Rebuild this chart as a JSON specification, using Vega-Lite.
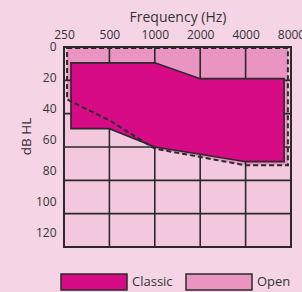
{
  "$schema": "https://vega.github.io/schema/vega-lite/v6.json",
  "width": 227,
  "height": 200,
  "autosize": "none",
  "padding": {"left": 64, "top": 47, "right": 11, "bottom": 45},
  "background": "#f5d5e5",
  "config": {
    "font": "Open Sans",
    "view": {"fill": "#f3c8de", "stroke": "#2a2a2a", "strokeWidth": 2},
    "axis": {
      "labelFont": "Open Sans", "labelFontSize": 12, "labelColor": "#333333",
      "titleFont": "Open Sans", "titleFontSize": 13, "titleFontWeight": "normal", "titleColor": "#333333",
      "domain": false, "ticks": false, "grid": false, "labelFlush": false, "labelOverlap": false
    },
    "axisX": {"labelBound": false, "labelPadding": 6, "titlePadding": 4, "titleFontSize": 14},
    "axisY": {"labelPadding": 8, "titlePadding": 2, "titleY": 89, "titleFontSize": 13.5},
    "legend": {"labelFont": "Open Sans", "labelFontSize": 13, "labelColor": "#333333"}
  },
  "datasets": {
    "open": [
      {"series": "Open", "freq": 262, "top": 0.6, "bottom": 31.5},
      {"series": "Open", "freq": 500, "top": 0.6, "bottom": 44},
      {"series": "Open", "freq": 1000, "top": 0.6, "bottom": 61},
      {"series": "Open", "freq": 4000, "top": 0.6, "bottom": 71},
      {"series": "Open", "freq": 7630, "top": 0.6, "bottom": 71}
    ],
    "classic": [
      {"series": "Classic", "freq": 278, "top": 9.5, "bottom": 49},
      {"series": "Classic", "freq": 500, "top": 9.5, "bottom": 49},
      {"series": "Classic", "freq": 1000, "top": 9.5, "bottom": 60},
      {"series": "Classic", "freq": 2000, "top": 19, "bottom": 64.4},
      {"series": "Classic", "freq": 4000, "top": 19, "bottom": 68.8},
      {"series": "Classic", "freq": 7200, "top": 19, "bottom": 68.8}
    ],
    "vgrid": [{"freq": 500}, {"freq": 1000}, {"freq": 2000}, {"freq": 4000}],
    "hgrid": [{"db": 20}, {"db": 40}, {"db": 60}, {"db": 80}, {"db": 100}]
  },
  "layer": [
    {
      "data": {"name": "open"},
      "mark": {"type": "area", "opacity": 1, "strokeWidth": 0},
      "encoding": {
        "x": {"field": "freq", "type": "quantitative", "scale": {"type": "log", "domain": [250, 8000], "nice": false},
          "axis": {"orient": "top", "title": "Frequency (Hz)", "values": [250, 500, 1000, 2000, 4000, 8000], "format": "d"}},
        "y": {"field": "top", "type": "quantitative", "scale": {"domain": [0, 120], "reverse": true, "nice": false, "zero": false},
          "axis": {"title": "dB HL", "titleFontSize": 13.5, "values": [0, 20, 40, 60, 80, 100, 120], "labelOffset": {"expr": "-1 - 0.109 * datum.value"}}},
        "y2": {"field": "bottom"},
        "color": {
          "field": "series", "type": "nominal",
          "scale": {"domain": ["Classic", "Open"], "range": ["#d70b86", "#e994c1"]},
          "legend": {
            "orient": "none", "legendX": -4, "legendY": 201, "direction": "horizontal", "title": null,
            "symbolType": "M-1,-0.2424H1V0.2424H-1Z", "symbolSize": 4356,
            "symbolStrokeColor": "#2a2a2a", "symbolStrokeWidth": 1.5, "symbolOpacity": 1,
            "labelOffset": 4, "columnPadding": 10, "padding": 0
          }
        }
      }
    },
    {
      "data": {"name": "vgrid"},
      "mark": {"type": "rule", "color": "#2a2a2a", "strokeWidth": 1.6},
      "encoding": {
        "x": {"field": "freq", "type": "quantitative", "scale": {"type": "log", "domain": [250, 8000], "nice": false},
          "axis": {"orient": "top", "title": "Frequency (Hz)", "values": [250, 500, 1000, 2000, 4000, 8000], "format": "d"}}
      }
    },
    {
      "data": {"name": "hgrid"},
      "mark": {"type": "rule", "color": "#2a2a2a", "strokeWidth": 1.6},
      "encoding": {
        "y": {"field": "db", "type": "quantitative", "scale": {"domain": [0, 120], "reverse": true, "nice": false, "zero": false},
          "axis": {"title": "dB HL", "titleFontSize": 13.5, "values": [0, 20, 40, 60, 80, 100, 120], "labelOffset": {"expr": "-1 - 0.109 * datum.value"}}}
      }
    },
    {
      "data": {"name": "classic"},
      "mark": {"type": "area", "opacity": 1, "stroke": "#2a2a2a", "strokeWidth": 1.6},
      "encoding": {
        "x": {"field": "freq", "type": "quantitative", "scale": {"type": "log", "domain": [250, 8000], "nice": false},
          "axis": {"orient": "top", "title": "Frequency (Hz)", "values": [250, 500, 1000, 2000, 4000, 8000], "format": "d"}},
        "y": {"field": "top", "type": "quantitative", "scale": {"domain": [0, 120], "reverse": true, "nice": false, "zero": false},
          "axis": {"title": "dB HL", "titleFontSize": 13.5, "values": [0, 20, 40, 60, 80, 100, 120], "labelOffset": {"expr": "-1 - 0.109 * datum.value"}}},
        "y2": {"field": "bottom"},
        "color": {"field": "series", "type": "nominal"}
      }
    },
    {
      "data": {"name": "open"},
      "mark": {"type": "area", "fill": "transparent", "stroke": "#2a2a2a", "strokeWidth": 2, "strokeDash": [5, 3]},
      "encoding": {
        "x": {"field": "freq", "type": "quantitative", "scale": {"type": "log", "domain": [250, 8000], "nice": false},
          "axis": {"orient": "top", "title": "Frequency (Hz)", "values": [250, 500, 1000, 2000, 4000, 8000], "format": "d"}},
        "y": {"field": "top", "type": "quantitative", "scale": {"domain": [0, 120], "reverse": true, "nice": false, "zero": false},
          "axis": {"title": "dB HL", "titleFontSize": 13.5, "values": [0, 20, 40, 60, 80, 100, 120], "labelOffset": {"expr": "-1 - 0.109 * datum.value"}}},
        "y2": {"field": "bottom"}
      }
    }
  ]
}
